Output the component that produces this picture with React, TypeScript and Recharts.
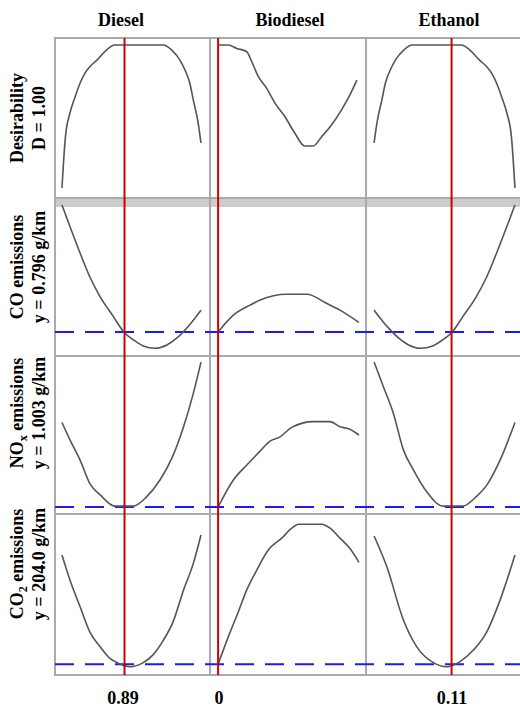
import { LineChart, Line, XAxis, YAxis, ReferenceLine } from "recharts";

type Pt = [number, number];

const factors = ["Diesel", "Biodiesel", "Ethanol"];
const settings = [0.89, 0, 0.11];
const settingLabels = ["0.89", "0", "0.11"];
// row 0 is the composite desirability, rows 1-3 the responses
const responseTargets: (number | null)[] = [null, 0.796, 1.003, 204.0];

// Desirability D vs each component
const desDiesel: Pt[] = [
  [0.8, 0.065], [0.805, 0.4], [0.8115, 0.556], [0.819, 0.662], [0.826, 0.75],
  [0.833, 0.815], [0.84, 0.858], [0.85, 0.9], [0.864, 0.967], [0.876, 1.0],
  [0.946, 1.0], [0.958, 0.967], [0.97, 0.9], [0.977, 0.837], [0.984, 0.75],
  [0.989, 0.64], [0.996, 0.49], [1.0, 0.36],
];
const desBiodiesel: Pt[] = [
  [0, 1.0], [0.0146, 1.0], [0.0265, 0.978], [0.0407, 0.956], [0.0478, 0.891],
  [0.0572, 0.793], [0.069, 0.717], [0.081, 0.619], [0.095, 0.531], [0.109, 0.423],
  [0.123, 0.34], [0.135, 0.34], [0.147, 0.401], [0.161, 0.477], [0.175, 0.575],
  [0.187, 0.673], [0.197, 0.771],
];
const desEthanol: Pt[] = [
  [0.0, 0.36], [0.004, 0.49], [0.011, 0.64], [0.016, 0.75], [0.023, 0.837],
  [0.03, 0.9], [0.042, 0.967], [0.054, 1.0], [0.124, 1.0], [0.136, 0.967],
  [0.15, 0.9], [0.16, 0.858], [0.167, 0.815], [0.174, 0.75], [0.181, 0.662],
  [0.1885, 0.556], [0.195, 0.4], [0.2, 0.065],
];

// CO emissions (g/km)
const coDiesel: Pt[] = [
  [0.8, 1.302], [0.8115, 1.216], [0.826, 1.111], [0.84, 1.016], [0.855, 0.936],
  [0.874, 0.857], [0.889, 0.796], [0.903, 0.764], [0.917, 0.74], [0.934, 0.731],
  [0.951, 0.744], [0.965, 0.771], [0.979, 0.81], [0.991, 0.85], [1.0, 0.883],
];
const coBiodiesel: Pt[] = [
  [0, 0.796], [0.0217, 0.863], [0.0454, 0.903], [0.0596, 0.923], [0.0974, 0.946],
  [0.126, 0.946], [0.154, 0.91], [0.173, 0.883], [0.2, 0.834],
];
const coEthanol: Pt[] = [
  [0.0, 0.883], [0.009, 0.85], [0.021, 0.81], [0.035, 0.771], [0.049, 0.744],
  [0.066, 0.731], [0.083, 0.74], [0.097, 0.764], [0.111, 0.796], [0.126, 0.857],
  [0.145, 0.936], [0.16, 1.016], [0.174, 1.111], [0.1885, 1.216], [0.2, 1.302],
];

// NOx emissions (g/km)
const noxDiesel: Pt[] = [
  [0.8, 1.281], [0.8115, 1.224], [0.826, 1.158], [0.84, 1.081], [0.855, 1.043],
  [0.876, 1.006], [0.903, 1.006], [0.922, 1.037], [0.941, 1.092], [0.958, 1.163],
  [0.975, 1.267], [0.989, 1.377], [1.0, 1.48],
];
const noxBiodiesel: Pt[] = [
  [0, 1.003], [0.0217, 1.092], [0.0407, 1.141], [0.0596, 1.187], [0.0738, 1.22],
  [0.088, 1.234], [0.1045, 1.265], [0.135, 1.284], [0.159, 1.284], [0.173, 1.267],
  [0.187, 1.259], [0.2, 1.24],
];
const noxEthanol: Pt[] = [
  [0.0, 1.48], [0.0132, 1.399], [0.0274, 1.311], [0.0416, 1.191], [0.0558, 1.125],
  [0.0747, 1.053], [0.098, 1.006], [0.126, 1.006], [0.145, 1.037], [0.16, 1.075],
  [0.179, 1.158], [0.2, 1.281],
];

// CO2 emissions (g/km)
const co2Diesel: Pt[] = [
  [0.8, 244.7], [0.8115, 235.4], [0.826, 225.5], [0.84, 216.1], [0.855, 210.5],
  [0.869, 206.2], [0.881, 204.4], [0.898, 203.1], [0.917, 204.6], [0.931, 207.5],
  [0.946, 213.0], [0.96, 219.9], [0.975, 231.7], [0.989, 241.6], [1.0, 252.2],
];
const co2Biodiesel: Pt[] = [
  [0, 204.0], [0.0146, 214.3], [0.0288, 223.6], [0.0407, 231.7], [0.0525, 237.9],
  [0.0713, 246.6], [0.0904, 251.0], [0.1045, 254.7], [0.114, 256.2], [0.147, 256.2],
  [0.159, 254.7], [0.173, 251.0], [0.187, 247.2], [0.2, 242.0],
];
const co2Ethanol: Pt[] = [
  [0.0, 251.8], [0.018, 240.4], [0.0416, 220.5], [0.0606, 210.5], [0.0841, 204.6],
  [0.103, 203.1], [0.122, 205.0], [0.141, 209.3], [0.16, 216.1], [0.179, 228.0],
  [0.2, 244.7],
];

const panels: Pt[][][] = [
  [desDiesel, desBiodiesel, desEthanol],
  [coDiesel, coBiodiesel, coEthanol],
  [noxDiesel, noxBiodiesel, noxEthanol],
  [co2Diesel, co2Biodiesel, co2Ethanol],
];

// layout
const colLeft = [55, 210, 366];
const colWidth = [155, 156, 156];
const rowTop = [38, 198, 356, 514];
const rowHeight = [160, 158, 158, 161];
const xDomains: [number, number][] = [[0.79, 1.013], [-0.0115, 0.21], [-0.0115, 0.21]];
const yDomains: [number, number][] = [[0, 1.046], [0.7, 1.33], [0.98, 1.5], [200, 260]];

const GRID = "#aaaaaa";
const RED = "#d00000";
const BLUE = "#1a1aff";
const CURVE = "#555555";
const FONT = '"Liberation Serif", "Times New Roman", serif';

function Panel({ row, col }: { row: number; col: number }) {
  const data = panels[row][col].map(([x, y]) => ({ x, y }));
  const target = responseTargets[row];
  return (
    <div
      style={{
        position: "absolute",
        left: colLeft[col],
        top: rowTop[row],
        width: colWidth[col],
        height: rowHeight[row],
      }}
    >
      <LineChart
        width={colWidth[col]}
        height={rowHeight[row]}
        data={data}
        margin={{ top: 0, right: 0, bottom: 0, left: 0 }}
      >
        <XAxis type="number" dataKey="x" domain={xDomains[col]} hide allowDataOverflow />
        <YAxis type="number" domain={yDomains[row]} hide allowDataOverflow />
        {target !== null && (
          <ReferenceLine
            y={target}
            stroke={BLUE}
            strokeWidth={2}
            strokeDasharray="19 11"
            strokeDashoffset={colLeft[col] - colLeft[0]}
          />
        )}
        <Line
          type="monotone"
          dataKey="y"
          stroke={CURVE}
          strokeWidth={1.6}
          dot={false}
          isAnimationActive={false}
        />
        <ReferenceLine x={settings[col]} stroke={RED} strokeWidth={2} />
      </LineChart>
    </div>
  );
}

const hLine = (top: number) => (
  <div key={"h" + top} style={{ position: "absolute", left: 54, top: top - 1, width: 470, height: 2, background: GRID }} />
);
const vLine = (left: number) => (
  <div key={"v" + left} style={{ position: "absolute", left: left - 1, top: 37, width: 2, height: 639, background: GRID }} />
);

const rowLabelCenters = [118, 267, 413, 564];

export default function App() {
  return (
    <div
      style={{
        position: "absolute",
        left: 0,
        top: 0,
        width: 520,
        height: 707,
        overflow: "hidden",
        background: "#ffffff",
        fontFamily: FONT,
      }}
    >
      {/* panel frame */}
      <div style={{ position: "absolute", left: 54, top: 197, width: 470, height: 10, background: "#cccccc" }} />
      {[38, 198, 356, 514, 675].map(hLine)}
      {[55, 210, 366].map(vLine)}

      {panels.map((r, ri) => r.map((_, ci) => <Panel key={ri + "-" + ci} row={ri} col={ci} />))}

      <svg
        width={520}
        height={707}
        style={{ position: "absolute", left: 0, top: 0, pointerEvents: "none" }}
        fontFamily={FONT}
        fontWeight="bold"
        fontSize={18}
        fill="#000"
      >
        {factors.map((f, i) => (
          <text key={f} x={[121, 290, 449][i]} y={26} textAnchor="middle">
            {f}
          </text>
        ))}
        {settingLabels.map((s, i) => (
          <text key={s} x={[123, 219, 452][i]} y={704} textAnchor="middle">
            {s}
          </text>
        ))}

        <text transform={`translate(23, ${rowLabelCenters[0]}) rotate(-90)`} textAnchor="middle">
          Desirability
        </text>
        <text transform={`translate(45, ${rowLabelCenters[0]}) rotate(-90)`} textAnchor="middle">
          D = 1.00
        </text>

        <text transform={`translate(23, ${rowLabelCenters[1]}) rotate(-90)`} textAnchor="middle">
          CO emissions
        </text>
        <text transform={`translate(45, ${rowLabelCenters[1]}) rotate(-90)`} textAnchor="middle">
          {`y = ${responseTargets[1]!.toFixed(3)} g/km`}
        </text>

        <text transform={`translate(23, ${rowLabelCenters[2]}) rotate(-90)`} textAnchor="middle">
          NO
          <tspan dy={4} fontSize={12}>x</tspan>
          <tspan dy={-4}> emissions</tspan>
        </text>
        <text transform={`translate(45, ${rowLabelCenters[2]}) rotate(-90)`} textAnchor="middle">
          {`y = ${responseTargets[2]!.toFixed(3)} g/km`}
        </text>

        <text transform={`translate(23, ${rowLabelCenters[3]}) rotate(-90)`} textAnchor="middle">
          CO
          <tspan dy={4} fontSize={12}>2</tspan>
          <tspan dy={-4}> emissions</tspan>
        </text>
        <text transform={`translate(45, ${rowLabelCenters[3]}) rotate(-90)`} textAnchor="middle">
          {`y = ${responseTargets[3]!.toFixed(1)} g/km`}
        </text>
      </svg>
    </div>
  );
}
